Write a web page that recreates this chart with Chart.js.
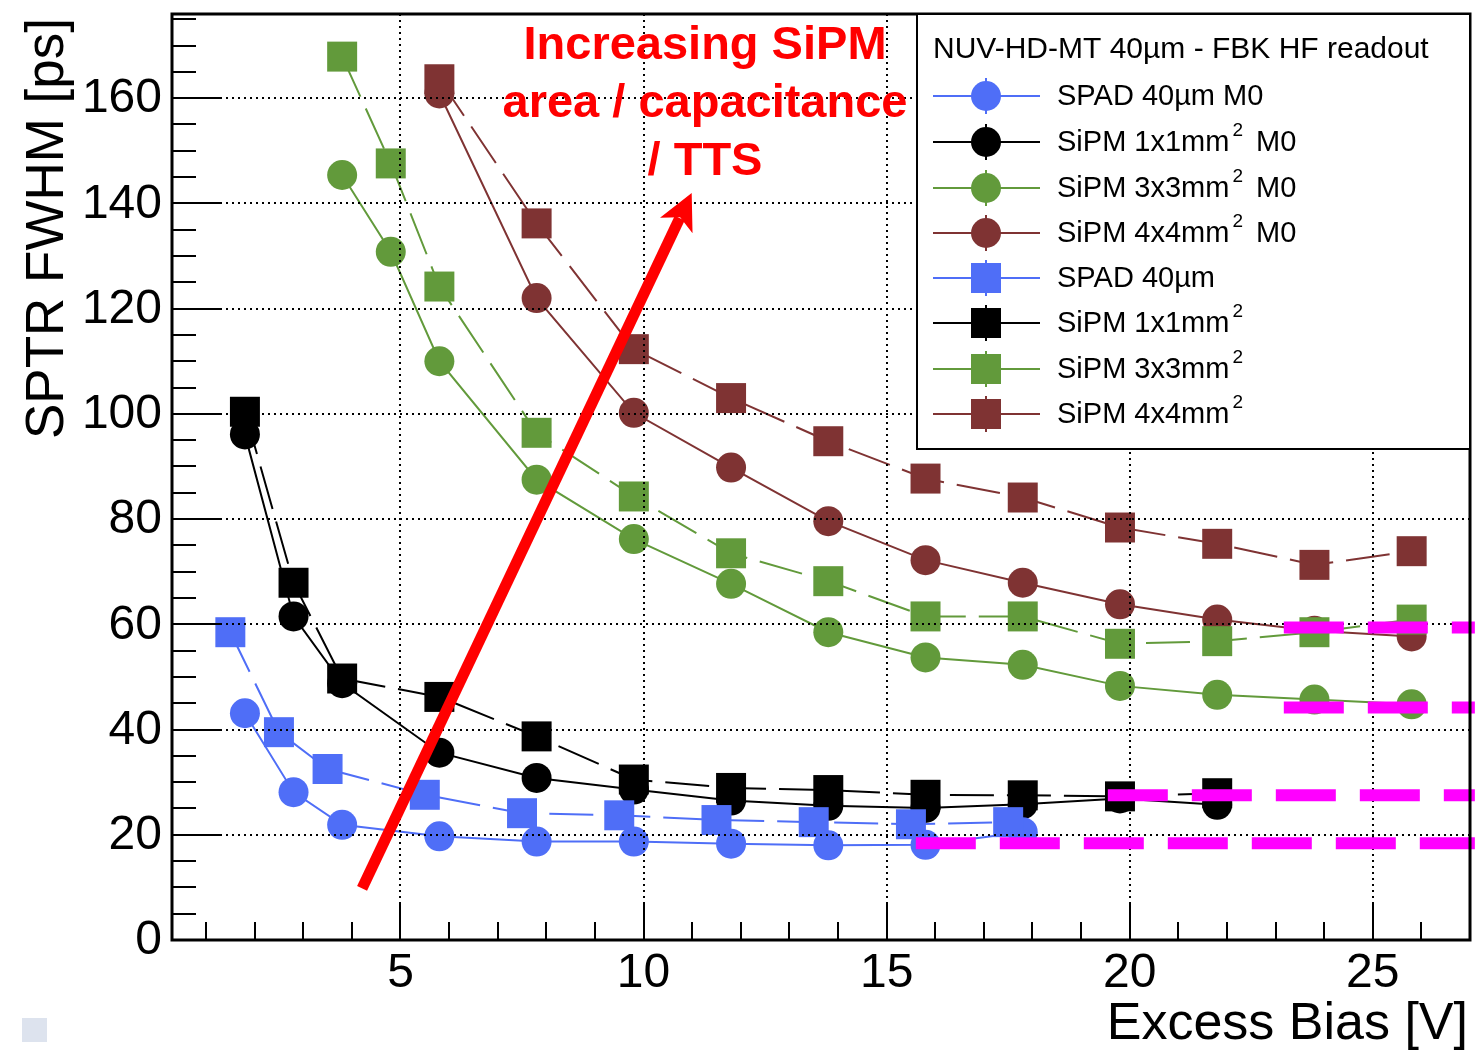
<!DOCTYPE html>
<html>
<head>
<meta charset="utf-8">
<script src="https://cdn.jsdelivr.net/npm/chart.js@4"></script>
<style>
  html, body { margin: 0; padding: 0; background: #fff; }
  #c { display: block; }
</style>
</head>
<body>
<canvas id="c" width="1475" height="1050"></canvas>
<script>
// Excess bias [V] of the points
const biasSmall = [1.8, 2.8, 3.8, 5.8, 7.8, 9.8, 11.8, 13.8, 15.8, 17.8, 19.8, 21.8];
const biasSpad  = [1.5, 2.5, 3.5, 5.5, 7.5, 9.5, 11.5, 13.5, 15.5, 17.5];
const bias3mm   = [3.8, 4.8, 5.8, 7.8, 9.8, 11.8, 13.8, 15.8, 17.8, 19.8, 21.8, 23.8, 25.8];
const bias4mm   = [5.8, 7.8, 9.8, 11.8, 13.8, 15.8, 17.8, 19.8, 21.8, 23.8, 25.8];

// SPTR FWHM [ps] - M0 (circles)
const spadM0  = [43.1, 28.1, 21.9, 19.7, 18.7, 18.7, 18.3, 18.0, 18.1, 20.5];
const sipm1M0 = [96.1, 61.5, 48.8, 35.6, 30.8, 28.6, 26.5, 25.5, 25.1, 25.8, 26.9, 25.7];
const sipm3M0 = [145.4, 130.8, 110.0, 87.5, 76.2, 67.7, 58.5, 53.7, 52.3, 48.3, 46.6, 45.7, 44.8];
const sipm4M0 = [160.9, 122.0, 100.2, 89.8, 79.6, 72.2, 67.9, 63.8, 60.9, 58.8, 57.7];

// SPTR FWHM [ps] - standard (squares)
const spad  = [58.5, 39.5, 32.5, 27.6, 24.1, 23.7, 22.8, 22.4, 22.0, 22.4];
const sipm1 = [100.4, 67.9, 49.7, 46.2, 38.7, 30.5, 28.9, 28.5, 27.6, 27.5, 27.3, 27.9];
const sipm3 = [167.9, 147.6, 124.2, 96.4, 84.3, 73.5, 68.2, 61.5, 61.5, 56.3, 56.8, 58.5, 60.9];
const sipm4 = [163.6, 136.2, 112.3, 103.0, 94.8, 87.7, 84.1, 78.4, 75.3, 71.3, 73.9];

// magenta reference levels
const refLevels = [59.4, 44.2, 27.5, 18.4];
const refStart  = [23.17, 23.17, 19.55, 15.6];
const refEnd    = 27.1;

// red arrow (data coords)
const arrowFrom = [4.21, 9.8];
const arrowTo   = [10.99, 142.0];

const seriesNames = [
  'SPAD 40µm M0', 'SiPM 1x1mm² M0', 'SiPM 3x3mm² M0', 'SiPM 4x4mm² M0',
  'SPAD 40µm', 'SiPM 1x1mm²', 'SiPM 3x3mm²', 'SiPM 4x4mm²'
];
const xLabels = [5, 10, 15, 20, 25];
const yLabels = [0, 20, 40, 60, 80, 100, 120, 140, 160];

const FONT = '"Liberation Sans", Arial, Helvetica, sans-serif';
const BLUE = '#4f6ef7', BLACK = '#000000', GREEN = '#629a3b', BROWN = '#7f3333';
const colors = [BLUE, BLACK, GREEN, BROWN];

const pts = (xs, ys) => ys.map((v, i) => ({x: xs[i], y: v}));

function circleSet(i, xs, ys) {
  return {
    label: seriesNames[i], data: pts(xs, ys), showLine: true, order: 3,
    borderColor: colors[i], backgroundColor: colors[i], borderWidth: 2,
    pointStyle: 'circle', pointRadius: 15, pointBorderWidth: 0, pointHoverRadius: 15
  };
}
function squareSet(i, xs, ys) {
  return {
    label: seriesNames[i + 4], data: pts(xs, ys), showLine: true, order: 2,
    borderColor: colors[i], backgroundColor: colors[i], borderWidth: 2, borderDash: [44, 13],
    pointStyle: 'rect', pointRadius: 21.2, pointBorderWidth: 0, pointHoverRadius: 21.2
  };
}

const datasets = [
  circleSet(0, biasSmall, spadM0),
  circleSet(1, biasSmall, sipm1M0),
  circleSet(2, bias3mm, sipm3M0),
  circleSet(3, bias4mm, sipm4M0),
  squareSet(0, biasSpad, spad),
  squareSet(1, biasSmall, sipm1),
  squareSet(2, bias3mm, sipm3),
  squareSet(3, bias4mm, sipm4)
];
refLevels.forEach((lvl, i) => {
  datasets.push({
    label: 'ref' + i, data: [{x: refStart[i], y: lvl}, {x: refEnd, y: lvl}],
    showLine: true, order: 1, clip: false,
    borderColor: '#ff00ff', borderWidth: 12, borderDash: [60, 24], pointRadius: 0
  });
});

function line(ctx, x0, y0, x1, y1) {
  ctx.beginPath(); ctx.moveTo(x0, y0); ctx.lineTo(x1, y1); ctx.stroke();
}

function drawGrid(chart) {
  const {ctx, chartArea: a, scales: {x, y}} = chart;
  ctx.save();
  ctx.strokeStyle = '#000'; ctx.lineWidth = 2; ctx.setLineDash([2, 4]);
  xLabels.forEach(v => { const px = Math.round(x.getPixelForValue(v)); line(ctx, px, a.top, px, a.bottom); });
  yLabels.forEach(v => { if (v === 0) return; const py = Math.round(y.getPixelForValue(v)); line(ctx, a.left, py, a.right, py); });
  ctx.restore();
}

function drawAxes(chart) {
  const {ctx, chartArea: a, scales: {x, y}} = chart;
  ctx.save();
  ctx.strokeStyle = '#000'; ctx.lineWidth = 2;
  // ROOT style inward ticks
  for (let v = 5; v <= 175; v += 5) {
    const py = Math.round(y.getPixelForValue(v));
    line(ctx, a.left, py, a.left + (v % 20 === 0 ? 48 : 24), py);
  }
  for (let v = 1; v <= 26; v++) {
    const px = Math.round(x.getPixelForValue(v));
    line(ctx, px, a.bottom, px, a.bottom - (v % 5 === 0 ? 37 : 18));
  }
  ctx.lineWidth = 3;
  ctx.strokeRect(a.left, a.top, a.right - a.left, a.bottom - a.top);

  ctx.fillStyle = '#000';
  ctx.font = '48px ' + FONT;
  ctx.textAlign = 'right'; ctx.textBaseline = 'middle';
  yLabels.forEach(v => ctx.fillText(String(v), a.left - 10, y.getPixelForValue(v) + 1));
  ctx.textAlign = 'center';
  xLabels.forEach(v => ctx.fillText(String(v), x.getPixelForValue(v), 974));

  ctx.font = '52px ' + FONT;
  ctx.textAlign = 'right'; ctx.textBaseline = 'alphabetic';
  ctx.fillText('Excess Bias [V]', 1468, 1039);
  ctx.save();
  ctx.translate(63, 18); ctx.rotate(-Math.PI / 2);
  ctx.font = '53px ' + FONT;
  ctx.fillText('SPTR FWHM [ps]', 0, 0);
  ctx.restore();

  ctx.fillStyle = '#dde3ee';
  ctx.fillRect(22, 1018, 25, 24);
  ctx.restore();
}

function drawLegend(chart) {
  const {ctx} = chart;
  ctx.save();
  ctx.fillStyle = '#fff'; ctx.fillRect(917, 14, 553, 435);
  ctx.strokeStyle = '#000'; ctx.lineWidth = 2; ctx.strokeRect(917, 14, 553, 435);
  ctx.fillStyle = '#000'; ctx.font = '30px ' + FONT;
  ctx.textAlign = 'left'; ctx.textBaseline = 'middle';
  ctx.fillText('NUV-HD-MT 40µm - FBK HF readout', 933, 50);
  const rows = [96, 142, 188, 233, 278, 323, 369, 414];
  seriesNames.forEach((name, i) => {
    const ry = rows[i], c = colors[i % 4];
    ctx.strokeStyle = c; ctx.fillStyle = c; ctx.lineWidth = 2;
    line(ctx, 933, ry, 1040, ry);
    line(ctx, 986, ry - 18, 986, ry + 18);
    if (i < 4) { ctx.beginPath(); ctx.arc(986, ry, 15, 0, Math.PI * 2); ctx.fill(); }
    else ctx.fillRect(971, ry - 15, 30, 30);
    ctx.fillStyle = '#000';
    const parts = name.split('²');
    ctx.font = '29px ' + FONT; ctx.textBaseline = 'middle';
    let tx = 1057;
    ctx.fillText(parts[0], tx, ry + 1);
    if (parts.length > 1) {
      tx += ctx.measureText(parts[0]).width + 3;
      ctx.font = '19px ' + FONT; ctx.textBaseline = 'alphabetic';
      ctx.fillText('2', tx, ry - 6);
      tx += ctx.measureText('2').width + 5;
      ctx.font = '29px ' + FONT; ctx.textBaseline = 'middle';
      ctx.fillText(parts[1], tx, ry + 1);
    }
  });
  ctx.restore();
}

function drawAnnotation(chart) {
  const {ctx, scales: {x, y}} = chart;
  ctx.save();
  ctx.fillStyle = '#ff0000'; ctx.strokeStyle = '#ff0000';
  ctx.font = 'bold 47px ' + FONT; ctx.textAlign = 'center'; ctx.textBaseline = 'alphabetic';
  ctx.fillText('Increasing SiPM', 705, 59);
  ctx.fillText('area / capacitance', 705, 117);
  ctx.fillText('/ TTS', 705, 175);

  const x0 = x.getPixelForValue(arrowFrom[0]), y0 = y.getPixelForValue(arrowFrom[1]);
  const x1 = x.getPixelForValue(arrowTo[0]), y1 = y.getPixelForValue(arrowTo[1]);
  const len = Math.hypot(x1 - x0, y1 - y0);
  const ux = (x1 - x0) / len, uy = (y1 - y0) / len, nx = -uy, ny = ux;
  ctx.lineWidth = 11; ctx.lineCap = 'butt';
  line(ctx, x0, y0, x1 - ux * 28, y1 - uy * 28);
  const bx = x1 - ux * 36, by = y1 - uy * 36;
  ctx.beginPath();
  ctx.moveTo(x1, y1);
  ctx.lineTo(bx + nx * 18, by + ny * 18);
  ctx.lineTo(x1 - ux * 27, y1 - uy * 27);
  ctx.lineTo(bx - nx * 18, by - ny * 18);
  ctx.closePath(); ctx.fill();
  ctx.restore();
}

const rootStyle = {
  id: 'rootStyle',
  afterDatasetDraw(chart, args) {
    // grid goes above the markers but under the magenta levels
    if (args.index === 4) drawGrid(chart);
  },
  afterDraw(chart) {
    drawAxes(chart);
    drawLegend(chart);
    drawAnnotation(chart);
  }
};

new Chart(document.getElementById('c'), {
  type: 'scatter',
  data: { datasets: datasets },
  plugins: [rootStyle],
  options: {
    responsive: false, animation: false, devicePixelRatio: 1,
    layout: { autoPadding: false, padding: { left: 0, top: 14, right: 5, bottom: 0 } },
    plugins: { legend: { display: false }, tooltip: { enabled: false } },
    scales: {
      x: {
        type: 'linear', min: 0.3, max: 27,
        grid: { display: false }, border: { display: false },
        ticks: { display: false },
        afterFit: s => { s.height = 110; }
      },
      y: {
        type: 'linear', min: 0, max: 176,
        grid: { display: false }, border: { display: false },
        ticks: { display: false },
        afterFit: s => { s.width = 172; }
      }
    }
  }
});
</script>
</body>
</html>
